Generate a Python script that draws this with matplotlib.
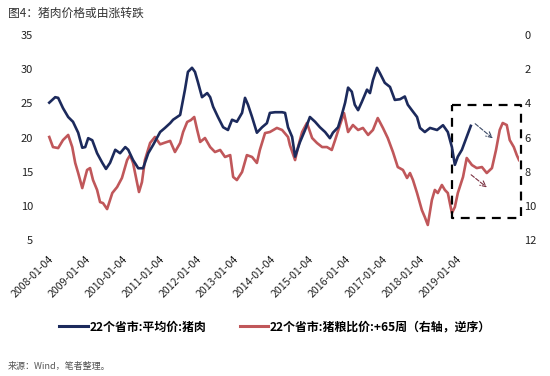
import matplotlib.pyplot as plt

plt.rcParams['font.family'] = ['Noto Sans CJK SC', 'DejaVu Sans']

# 22个省市:平均价:猪肉 (left axis), decimal year -> price
pork_t = [2008.03, 2008.19, 2008.27, 2008.40, 2008.54, 2008.67, 2008.81, 2008.92, 2009.00, 2009.08,
          2009.19, 2009.32, 2009.46, 2009.56, 2009.67, 2009.81, 2009.94, 2010.08, 2010.16, 2010.29,
          2010.43, 2010.56, 2010.70, 2010.83, 2011.02, 2011.15, 2011.29, 2011.37, 2011.56, 2011.69,
          2011.77, 2011.88, 2011.96, 2012.04, 2012.15, 2012.29, 2012.37, 2012.45, 2012.58, 2012.72,
          2012.85, 2012.96, 2013.09, 2013.23, 2013.31, 2013.39, 2013.50, 2013.63, 2013.77, 2013.90,
          2013.98, 2014.12, 2014.31, 2014.39, 2014.47, 2014.58, 2014.66, 2014.79, 2014.93, 2015.06,
          2015.20, 2015.33, 2015.47, 2015.60, 2015.68, 2015.82, 2015.92, 2016.01, 2016.09, 2016.19,
          2016.27, 2016.36, 2016.46, 2016.60, 2016.68, 2016.76, 2016.87, 2016.95, 2017.08, 2017.22,
          2017.35, 2017.49, 2017.62, 2017.70, 2017.81, 2017.95, 2018.03, 2018.16, 2018.30, 2018.49,
          2018.65, 2018.78, 2018.89, 2018.97, 2019.05, 2019.16, 2019.29, 2019.40]
pork_v = [25.1, 25.9, 25.8, 24.3, 23.0, 22.3, 20.7, 18.5, 18.6, 19.9,
          19.6, 17.7, 16.3, 15.4, 16.3, 18.2, 17.7, 18.6, 18.2, 16.7,
          15.5, 15.5, 17.7, 18.9, 20.8, 21.4, 22.1, 22.6, 23.3, 27.0,
          29.6, 30.2, 29.6, 28.1, 25.9, 26.5, 25.9, 24.5, 23.0, 21.5,
          21.1, 22.6, 22.3, 23.6, 25.8, 24.8, 23.0, 20.7, 21.5, 22.1,
          23.6, 23.7, 23.7, 23.6, 21.5, 20.1, 17.2, 19.3, 21.1, 23.0,
          22.3, 21.5, 20.8, 19.9, 20.7, 21.5, 23.3, 25.1, 27.3, 26.7,
          24.8, 24.0, 25.2, 27.0, 26.5, 28.4, 30.2, 29.4, 28.0, 27.4,
          25.5, 25.6, 26.0, 24.8, 24.0, 23.0, 21.4, 20.8, 21.4, 21.1,
          21.8, 20.8, 18.6, 16.0, 17.2, 18.2, 20.1, 21.7]

# 22个省市:猪粮比价:+65周 (right axis, inverted)
ratio_t = [2008.03, 2008.13, 2008.27, 2008.40, 2008.54, 2008.65, 2008.73, 2008.81, 2008.92, 2009.05,
           2009.13, 2009.21, 2009.32, 2009.40, 2009.48, 2009.59, 2009.73, 2009.86, 2009.99, 2010.13,
           2010.21, 2010.29, 2010.40, 2010.45, 2010.53, 2010.61, 2010.75, 2010.88, 2011.02, 2011.15,
           2011.29, 2011.42, 2011.56, 2011.64, 2011.75, 2011.85, 2011.94, 2012.02, 2012.10, 2012.23,
           2012.37, 2012.50, 2012.64, 2012.77, 2012.91, 2012.99, 2013.09, 2013.23, 2013.36, 2013.50,
           2013.63, 2013.71, 2013.85, 2013.98, 2014.17, 2014.31, 2014.47, 2014.52, 2014.66, 2014.74,
           2014.85, 2014.98, 2015.12, 2015.25, 2015.39, 2015.52, 2015.65, 2015.74, 2015.87, 2015.98,
           2016.09, 2016.22, 2016.36, 2016.49, 2016.63, 2016.76, 2016.89, 2017.03, 2017.16, 2017.30,
           2017.43, 2017.57, 2017.68, 2017.76, 2017.84, 2017.95, 2018.08, 2018.16, 2018.24, 2018.35,
           2018.43, 2018.51, 2018.62, 2018.70, 2018.78, 2018.89, 2018.97, 2019.05, 2019.19, 2019.29,
           2019.43, 2019.56, 2019.70, 2019.83, 2019.97, 2020.08, 2020.18, 2020.26, 2020.37, 2020.45,
           2020.56, 2020.64, 2020.70]
ratio_v = [5.97, 6.56, 6.62, 6.15, 5.85, 6.56, 7.49, 8.08, 8.96, 7.90,
           7.79, 8.49, 9.07, 9.78, 9.84, 10.19, 9.25, 8.90, 8.37, 7.32,
           7.03, 7.49, 8.67, 9.19, 8.61, 7.32, 6.32, 5.97, 6.40, 6.30,
           6.20, 6.85, 6.32, 5.68, 5.09, 4.98, 4.80, 5.56, 6.26, 6.03,
           6.56, 6.85, 6.73, 7.14, 7.03, 8.31, 8.49, 8.02, 7.03, 7.14,
           7.49, 6.73, 5.74, 5.68, 5.44, 5.56, 5.97, 6.44, 7.32, 6.56,
           5.68, 5.15, 6.03, 6.32, 6.56, 6.56, 6.73, 6.15, 5.27, 4.57,
           5.68, 5.27, 5.56, 5.44, 5.85, 5.56, 4.86, 5.44, 6.03, 6.85,
           7.73, 7.90, 8.37, 8.08, 8.49, 9.25, 10.25, 10.66, 11.12, 9.66,
           9.07, 9.25, 8.78, 9.07, 9.25, 10.42, 10.07, 9.25, 8.31, 7.20,
           7.61, 7.79, 7.73, 8.08, 7.79, 6.73, 5.56, 5.15, 5.27, 6.15,
           6.56, 7.03, 7.32]

tick_years = list(range(2008, 2020))
tick_labels = [f'{y}-01-04' for y in tick_years]

title = '图4：猪肉价格或由涨转跌'
pork_label = '22个省市:平均价:猪肉'
ratio_label = '22个省市:猪粮比价:+65周（右轴，逆序）'
source = '来源：Wind，笔者整理。'

blue = '#1c2a5c'
red = '#c0575a'

fig = plt.figure(figsize=(5.5, 3.76), dpi=100)
ax = fig.add_axes([40 / 550, 1 - 240 / 376, 479 / 550, 205 / 376])
ax2 = ax.twinx()

ax.plot(pork_t, pork_v, color=blue, lw=1.9, zorder=3)
ax2.plot(ratio_t, ratio_v, color=red, lw=1.9)
ax.set_zorder(ax2.get_zorder() + 1)
ax.patch.set_visible(False)

ax.set_xlim(2007.78, 2020.70)
ax.set_ylim(5, 35)
ax.set_yticks(range(5, 36, 5))
ax2.set_ylim(12, 0)
ax2.set_yticks(range(0, 13, 2))

ax.set_xticks([y + 3 / 365 for y in tick_years])
ax.set_xticklabels(tick_labels, rotation=45, ha='right', rotation_mode='anchor')

for a in (ax, ax2):
    for s in a.spines.values():
        s.set_visible(False)
    a.tick_params(length=0, labelsize=8, colors='#222222')
ax.tick_params(axis='x', labelsize=7.6, pad=10)
ax.tick_params(axis='y', pad=5)
ax2.tick_params(axis='y', pad=4)

# dashed highlight box and arrows
box_x = [2018.89, 2020.75, 2020.75, 2018.89, 2018.89]
box_y = [4.10, 4.10, 10.71, 10.71, 4.10]
ax2.plot(box_x, box_y, color='black', lw=1.6, ls=(0, (4, 3)), clip_on=False)
ax2.annotate('', xy=(2020.05, 6.15), xytext=(2019.46, 5.09),
             arrowprops=dict(arrowstyle='->', color='#3c4a66', lw=0.8, ls='--'))
ax2.annotate('', xy=(2019.89, 9.02), xytext=(2019.35, 8.08),
             arrowprops=dict(arrowstyle='->', color='#7a3040', lw=0.8, ls='--'))

fig.text(8 / 550, 1 - 13 / 376, title, fontsize=8.5, color='#333333', va='center')

h1, = ax.plot([], [], color=blue, lw=2.2)
h2, = ax.plot([], [], color=red, lw=2.2)
fig.legend([h1, h2], [pork_label, ratio_label], loc='center', ncol=2,
           bbox_to_anchor=(0.5, 1 - 327 / 376), frameon=False,
           handlelength=2.4, handletextpad=0.1, columnspacing=2.8,
           prop={'size': 8.6, 'weight': 'bold'})

fig.text(8 / 550, 1 - 366 / 376, source, fontsize=6.5, color='#555555', va='center')

fig.savefig('out.png', dpi=100)
